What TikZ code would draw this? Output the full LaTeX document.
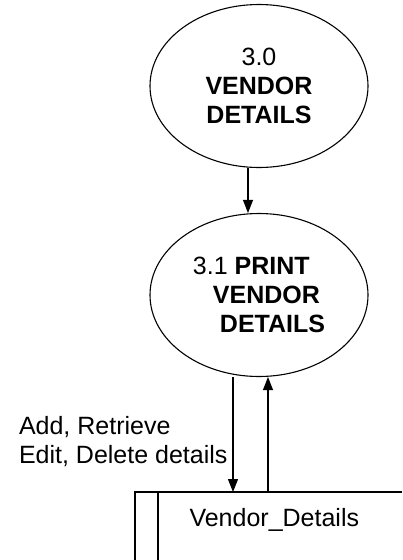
\documentclass[tikz,border=0pt]{standalone}
\usepackage{fontspec}
\setmainfont{Liberation Sans}
\usetikzlibrary{shapes.geometric, arrows.meta}

\tikzset{
  procs/.style={ellipse, draw, line width=1.1pt, inner sep=0pt,
    minimum width=218pt, minimum height=163pt, align=center},
  flow/.style={line width=1.1pt, -{Triangle[length=13pt,width=10pt]}}
}

\begin{document}
\begin{tikzpicture}[x=1pt,y=-1pt,font=\fontsize{25}{29}\selectfont]
        \useasboundingbox (0,0) rectangle (402,560);

        \node[procs] (p30) at (259,86) {3.0\\\textbf{VENDOR}\\\textbf{DETAILS}};
        \node[procs, align=left] (p31) at (259,295)
          {3.1 \textbf{PRINT}\\\hspace*{20pt}\textbf{VENDOR}\\\hspace*{27pt}\textbf{DETAILS}};

        % data store
        \coordinate (dbin) at (233,492);
        \coordinate (dbout) at (268,492);
        \draw[line width=1.1pt] (135,560)--(135,492)--(402,492);
        \draw[line width=1.1pt] (158,492)-- +(0,68);
        \node[anchor=west] (dbname) at (186,520) {Vendor\_Details};

        \draw[flow] ([xshift=-11pt]p30.south) -- ([xshift=-11pt]p31.north);
        \draw[flow] (p31.south -| dbin) -- (dbin);
        \draw[flow] (dbout) -- (p31.south -| dbout);

        \node[anchor=east, align=left] (lblcrud) at (231,442) {Add, Retrieve\\Edit, Delete details};
\end{tikzpicture}
\end{document}
